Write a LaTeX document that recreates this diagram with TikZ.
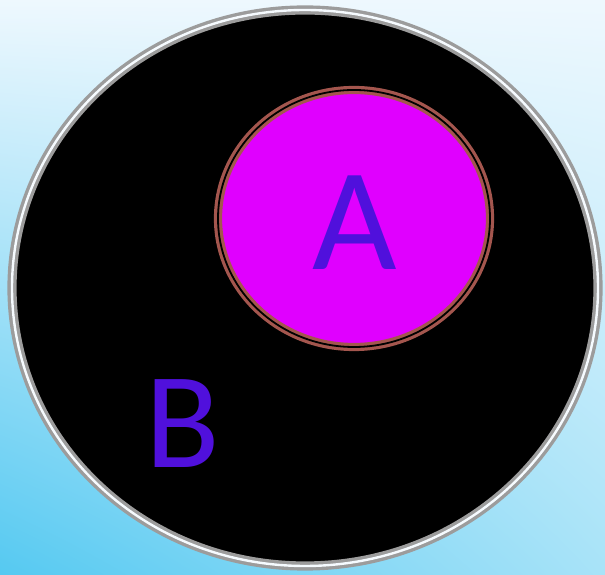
\documentclass[tikz,border=0pt]{standalone}
\usepackage{fontspec}
\setmainfont{Carlito}
\usetikzlibrary{shadings}
\definecolor{bgtop}{HTML}{EEF8FE}
\definecolor{bgright}{HTML}{A8E3F8}
\definecolor{bgleft}{HTML}{55C9F1}
\definecolor{rimgray}{HTML}{9C9C9C}
\definecolor{rimbrown}{HTML}{A4564E}
\definecolor{fillA}{HTML}{E000FF}
\definecolor{letter}{HTML}{5010DC}
\begin{document}
\begin{tikzpicture}[x=1pt, y=1pt]
    \useasboundingbox (0,0) rectangle (605,575);
    \shade[upper left=bgtop, upper right=bgtop, lower left=bgleft, lower right=bgright]
        (0,0) rectangle (605,575);
    \begin{scope}
        \fill[black] (305,287) ellipse [x radius=293pt, y radius=278pt];
        \fill[fillA] (354,356.5) ellipse [x radius=136pt, y radius=128.5pt];
    \end{scope}
    \draw[rimgray, line width=3.4pt, double=bgtop!50!white, double distance=2.4pt]
        (305,287) ellipse [x radius=293pt, y radius=278pt];
    \draw[rimbrown, line width=3.2pt, double=black, double distance=1.8pt]
        (354,356.5) ellipse [x radius=136pt, y radius=128.5pt];
    \node[letter, inner sep=0pt, font=\fontsize{146}{146}\selectfont] (setA) at (355,352) {A};
    \node[letter, inner sep=0pt, font=\fontsize{137}{137}\selectfont] (setB) at (183,151) {B};
\end{tikzpicture}
\end{document}
